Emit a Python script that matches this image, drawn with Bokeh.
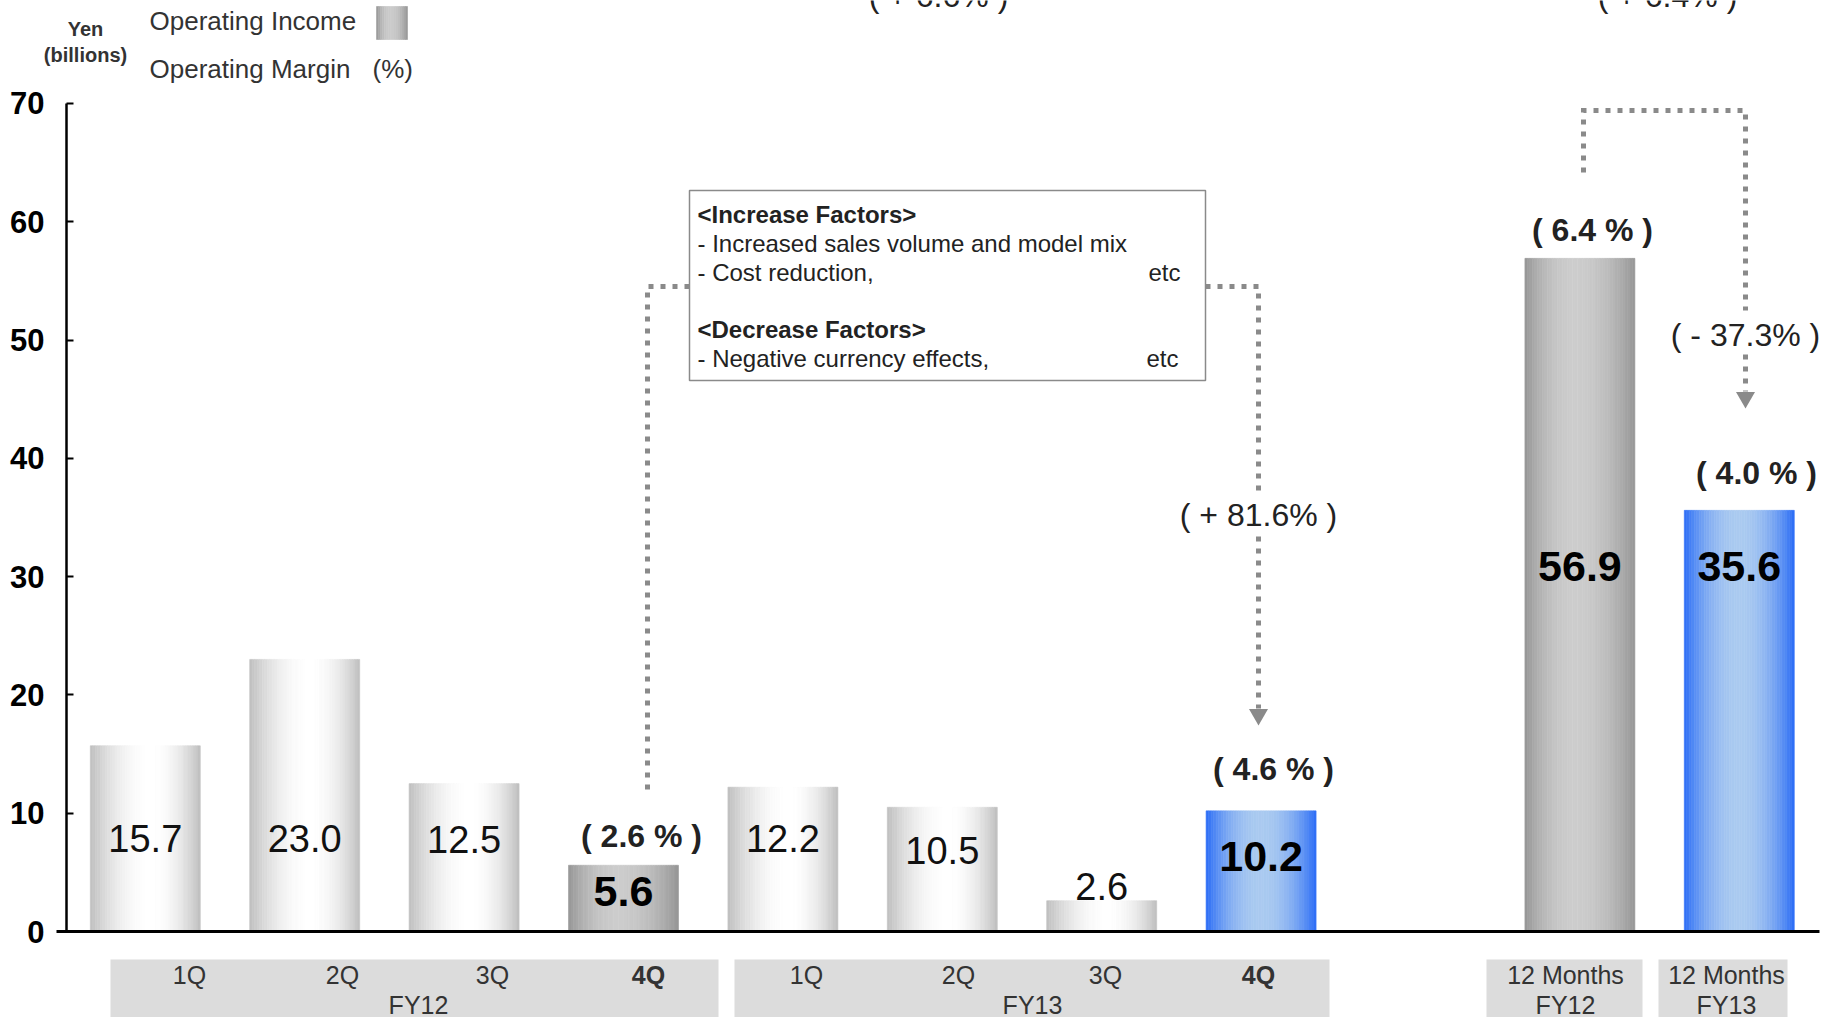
import math
from bokeh.plotting import figure
from bokeh.models import Range1d, LinearAxis, FixedTicker
from bokeh.embed import file_html
from bokeh.resources import INLINE
from bokeh.core.properties import value

# ---------------- data ----------------
quarter_labels = ["1Q", "2Q", "3Q", "4Q", "1Q", "2Q", "3Q", "4Q"]
quarter_bold = [False, False, False, True, False, False, False, True]
group_labels = ["FY12", "FY13"]
annual_labels = ["12 Months", "12 Months"]
annual_fy = ["FY12", "FY13"]
op_income = [15.7, 23.0, 12.5, 5.6, 12.2, 10.5, 2.6, 10.2, 56.9, 35.6]
bar_slot = [0, 1, 2, 3, 4, 5, 6, 7, 9, 10]
bar_kind = ["light", "light", "light", "dark", "light", "light", "light", "blue", "dark", "blue"]
margin_bar = [3, 7, 8, 9]
margin_pct = [2.6, 4.6, 6.4, 4.0]
change_text = ["( + 81.6% )", "( - 37.3% )"]
top_change_text = ["( + 6.6% )", "( + 6.4% )"]
y_ticks = [0, 10, 20, 30, 40, 50, 60, 70]

# ---------------- layout helpers (pixel -> data) ----------------
W, H = 1831, 1017
X0, DX = 144.8, 159.4
Y0, DY = 931.0, 11.83
def X(px): return (px - X0) / DX
def Y(py): return (Y0 - py) / DY

p = figure(width=W, height=H, output_backend="svg", toolbar_location=None,
           x_range=Range1d(X(0), X(W)), y_range=Range1d(Y(H), Y(0)),
           x_axis_location=None, y_axis_location=None,
           min_border_left=0, min_border_right=0, min_border_top=0, min_border_bottom=0)
p.grid.visible = False
p.outline_line_color = None
p.background_fill_color = "white"
p.border_fill_color = "white"

yaxis = LinearAxis(ticker=FixedTicker(ticks=y_ticks), bounds=(0, 70), fixed_location=X(66))
yaxis.axis_line_color = "black"
yaxis.axis_line_width = 2.5
yaxis.major_tick_in = 7
yaxis.major_tick_out = 0
yaxis.major_tick_line_width = 2
yaxis.minor_tick_line_color = None
yaxis.major_label_text_font = "Liberation Sans"
yaxis.major_label_text_font_style = "bold"
yaxis.major_label_text_font_size = "31px"
yaxis.major_label_text_color = "black"
yaxis.major_label_standoff = 22
p.add_layout(yaxis, "left")

# ---------------- gradient bars ----------------
palettes = {
    "light": ((190, 190, 190), (255, 255, 255), 0.56),
    "dark": ((150, 150, 150), (204, 204, 204), 0.45),
    "blue": ((42, 108, 246), (170, 202, 240), 0.50),
}
def shade(kind, t):
    e, c, mid = palettes[kind]
    d = (t - mid) / (mid if t < mid else 1 - mid)
    s = max(0.0, 1 - d * d)
    r, g, b = (int(round(e[i] + (c[i] - e[i]) * s)) for i in range(3))
    return "#%02x%02x%02x" % (r, g, b)

BW = 0.69
N = 44
L, R, T, B, C = [], [], [], [], []
for slot, v, kind in zip(bar_slot, op_income, bar_kind):
    for k in range(N):
        t = (k + 0.5) / N
        L.append(slot - BW / 2 + k * BW / N)
        R.append(slot - BW / 2 + (k + 1) * BW / N)
        T.append(v)
        B.append(0)
        C.append(shade(kind, t))
p.quad(left=L, right=R, top=T, bottom=B, fill_color=C, line_color=C, line_width=0.6)

# baseline (x axis line)
p.segment(x0=[X(56)], y0=[0], x1=[X(1819)], y1=[0], line_color="black", line_width=3)

# value labels
value_label_y = [7.9, 7.9, 7.8, 3.4, 7.85, 6.85, 3.8, 6.3, 30.85, 30.85]
normal = [i for i, k in enumerate(bar_kind) if k == "light"]
strong = [i for i, k in enumerate(bar_kind) if k != "light"]
p.text(x=[bar_slot[i] for i in normal], y=[value_label_y[i] for i in normal],
       text=["%.1f" % op_income[i] for i in normal],
       text_font=value("Liberation Sans"), text_font_size="38px", text_color="#111111",
       text_align="center", text_baseline="middle")
p.text(x=[bar_slot[i] for i in strong], y=[value_label_y[i] for i in strong],
       text=["%.1f" % op_income[i] for i in strong],
       text_font=value("Liberation Sans"), text_font_size="43px", text_font_style="bold",
       text_color="black", text_align="center", text_baseline="middle")

# margin labels
margin_xy = [(641, 835), (1273, 768), (1592, 229), (1756, 472)]
p.text(x=[X(a) for a, b in margin_xy], y=[Y(b) for a, b in margin_xy],
       text=["( %.1f %% )" % m for m in margin_pct],
       text_font=value("Liberation Sans"), text_font_size="32px", text_font_style="bold",
       text_color="#222222", text_align="center", text_baseline="middle")

# change labels
change_xy = [(1258, 514), (1745, 334)]
p.text(x=[X(a) for a, b in change_xy], y=[Y(b) for a, b in change_xy], text=change_text,
       text_font=value("Liberation Sans"), text_font_size="32px", text_color="#222222",
       text_align="center", text_baseline="middle")
top_xy = [(938, -5), (1667, -5)]
p.text(x=[X(a) for a, b in top_xy], y=[Y(b) for a, b in top_xy], text=top_change_text,
       text_font=value("Liberation Sans"), text_font_size="32px", text_color="#222222",
       text_align="center", text_baseline="middle")

# dotted connectors
GREY = "#8a8a8a"
paths = [
    [(647, 789), (647, 286), (689, 286)],
    [(1205, 286), (1258, 286), (1258, 494)],
    [(1258, 536), (1258, 708)],
    [(1583, 172), (1583, 110), (1745, 110), (1745, 310)],
    [(1745, 354), (1745, 391)],
]
p.multi_line(xs=[[X(a) for a, b in pth] for pth in paths],
             ys=[[Y(b) for a, b in pth] for pth in paths],
             line_color=GREY, line_width=5, line_dash="5 7", line_cap="butt", line_join="miter")
p.scatter(x=[X(1258), X(1745)], y=[Y(714), Y(397)], marker="inverted_triangle",
          size=19, fill_color=GREY, line_color=None)

# annotation box
p.quad(left=[X(689)], right=[X(1205)], top=[Y(190)], bottom=[Y(380)],
       fill_color="white", line_color="#8a8a8a", line_width=1.5)
box_lines = ["<Increase Factors>", "- Increased sales volume and model mix", "- Cost reduction,",
             "<Decrease Factors>", "- Negative currency effects,"]
box_y = [214, 243, 272, 329, 358]
box_bold = [True, False, False, True, False]
for txt, yy, bb in zip(box_lines, box_y, box_bold):
    p.text(x=[X(697)], y=[Y(yy)], text=[txt], text_font=value("Liberation Sans"),
           text_font_size="24px", text_font_style="bold" if bb else "normal",
           text_color="#222222", text_align="left", text_baseline="middle")
p.text(x=[X(1180), X(1178)], y=[Y(272), Y(358)], text=["etc", "etc"],
       text_font=value("Liberation Sans"), text_font_size="24px", text_color="#222222",
       text_align="right", text_baseline="middle")

# category boxes
box_px = [(110, 718), (734, 1329), (1486, 1642), (1658, 1787)]
p.quad(left=[X(a) for a, b in box_px], right=[X(b) for a, b in box_px],
       top=[Y(959)] * 4, bottom=[Y(1017)] * 4, fill_color="#dcdcdc", line_color=None)
q_x = [189, 342, 492, 648, 806, 958, 1105, 1258]
for lab, xx, bb in zip(quarter_labels, q_x, quarter_bold):
    p.text(x=[X(xx)], y=[Y(974)], text=[lab], text_font=value("Liberation Sans"),
           text_font_size="25px", text_font_style="bold" if bb else "normal",
           text_color="#333333", text_align="center", text_baseline="middle")
p.text(x=[X(418), X(1032)], y=[Y(1004)] * 2, text=group_labels,
       text_font=value("Liberation Sans"), text_font_size="25px", text_color="#333333",
       text_align="center", text_baseline="middle")
p.text(x=[X(1565), X(1726)], y=[Y(974)] * 2, text=annual_labels,
       text_font=value("Liberation Sans"), text_font_size="25px", text_color="#333333",
       text_align="center", text_baseline="middle")
p.text(x=[X(1565), X(1726)], y=[Y(1004)] * 2, text=annual_fy,
       text_font=value("Liberation Sans"), text_font_size="25px", text_color="#333333",
       text_align="center", text_baseline="middle")

# legend / unit labels
p.text(x=[X(85), X(85)], y=[Y(28), Y(54)], text=["Yen", "(billions)"],
       text_font=value("Liberation Sans"), text_font_size="20px", text_font_style="bold",
       text_color="#333333", text_align="center", text_baseline="middle")
p.text(x=[X(149), X(149)], y=[Y(20), Y(68)], text=["Operating Income", "Operating Margin"],
       text_font=value("Liberation Sans"), text_font_size="26px", text_color="#333333",
       text_align="left", text_baseline="middle")
p.text(x=[X(372)], y=[Y(68)], text=["(%)"],
       text_font=value("Liberation Sans"), text_font_size="26px", text_color="#333333",
       text_align="left", text_baseline="middle")
SL, SR, ST, SB = 376, 407, 6, 39
n = 16
sl = [X(SL + (SR - SL) * k / n) for k in range(n)]
sr = [X(SL + (SR - SL) * (k + 1) / n) for k in range(n)]
sc = [shade("dark", (k + 0.5) / n) for k in range(n)]
p.quad(left=sl, right=sr, top=[Y(ST)] * n, bottom=[Y(SB)] * n, fill_color=sc, line_color=sc, line_width=0.6)

open("out.html", "w").write(file_html(p, INLINE))
